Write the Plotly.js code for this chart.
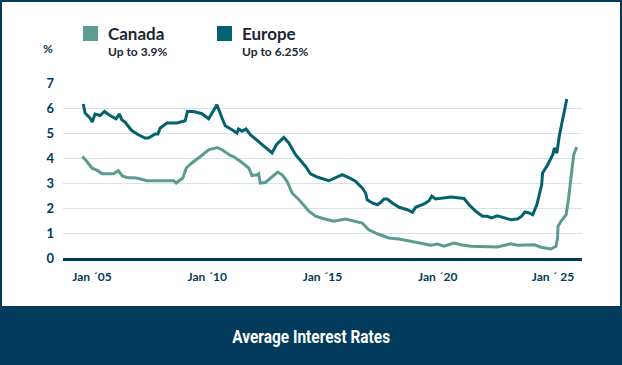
<!DOCTYPE html>
<html>
<head>
<meta charset="utf-8">
<script src="https://cdn.plot.ly/plotly-3.0.1.min.js"></script>
<style>
html,body{margin:0;padding:0;background:#013a5a;}
#chart{width:622px;height:365px;}
</style>
</head>
<body>
<div id="chart"></div>
<script>
// ---- data ----
const seriesNames = ["Canada", "Europe"];
const seriesNotes = ["Up to 3.9%", "Up to 6.25%"];

const canadaYears = [2004.58,2004.77,2004.99,2005.27,2005.42,2005.93,2006.14,2006.33,2006.51,2006.94,2007.38,2007.96,2008.54,2008.65,2008.94,2009.09,2009.33,2009.70,2010.06,2010.42,2010.64,2011.00,2011.14,2011.43,2011.80,2011.94,2012.16,2012.23,2012.30,2012.52,2012.81,2013.06,2013.25,2013.46,2013.68,2014.04,2014.41,2014.70,2015.06,2015.49,2016.00,2016.36,2016.72,2017.01,2017.38,2017.88,2018.32,2018.83,2019.26,2019.70,2019.99,2020.27,2020.71,2021.00,2021.43,2022.01,2022.59,2023.17,2023.46,2024.19,2024.48,2024.91,2025.13,2025.20,2025.22,2025.35,2025.57,2025.67,2025.78,2025.90,2026.03];
const canadaRates = [4.06,3.87,3.60,3.49,3.37,3.37,3.49,3.27,3.22,3.20,3.09,3.09,3.09,3.00,3.20,3.60,3.80,4.06,4.33,4.42,4.33,4.10,4.06,3.87,3.60,3.30,3.33,3.37,3.00,3.02,3.24,3.44,3.33,3.07,2.60,2.27,1.87,1.67,1.57,1.47,1.56,1.47,1.40,1.13,0.97,0.80,0.76,0.67,0.60,0.51,0.56,0.47,0.60,0.53,0.47,0.47,0.44,0.57,0.51,0.53,0.43,0.36,0.47,0.80,1.27,1.47,1.73,2.33,3.27,4.13,4.44];

const europeYears = [2004.62,2004.70,2004.77,2004.91,2005.01,2005.13,2005.35,2005.54,2005.78,2006.04,2006.19,2006.29,2006.43,2006.72,2007.01,2007.30,2007.45,2007.74,2007.86,2007.96,2008.25,2008.68,2009.04,2009.14,2009.40,2009.77,2010.06,2010.42,2010.64,2010.78,2011.07,2011.29,2011.36,2011.51,2011.68,2011.87,2012.81,2013.00,2013.32,2013.54,2013.83,2014.26,2014.48,2014.77,2015.27,2015.57,2015.86,2016.14,2016.43,2016.72,2016.87,2016.94,2017.16,2017.38,2017.52,2017.67,2017.81,2018.03,2018.32,2018.68,2018.90,2019.04,2019.41,2019.62,2019.74,2019.91,2020.42,2020.57,2021.14,2021.36,2021.65,2021.94,2022.15,2022.33,2022.59,2022.81,2023.17,2023.46,2023.64,2023.78,2023.97,2024.12,2024.30,2024.51,2024.55,2024.77,2024.99,2025.06,2025.17,2025.27,2025.42,2025.60];
const europeRates = [6.16,5.80,5.73,5.60,5.44,5.76,5.70,5.86,5.70,5.57,5.76,5.53,5.44,5.10,4.93,4.80,4.80,4.96,4.96,5.20,5.40,5.40,5.49,5.86,5.86,5.77,5.57,6.13,5.60,5.29,5.13,5.00,5.16,5.07,5.16,4.93,4.20,4.53,4.82,4.60,4.13,3.67,3.37,3.24,3.09,3.22,3.33,3.22,3.07,2.80,2.60,2.33,2.20,2.13,2.22,2.36,2.36,2.20,2.03,1.93,1.83,2.03,2.16,2.29,2.47,2.36,2.40,2.44,2.38,2.13,1.87,1.67,1.67,1.60,1.69,1.63,1.53,1.56,1.67,1.84,1.80,1.73,2.13,2.93,3.40,3.73,4.13,4.40,4.20,4.86,5.60,6.36];

const tickYears = [2005, 2010, 2015, 2020, 2025];
const tickLabels = ["Jan ´05", "Jan ´10", "Jan ´15", "Jan ´20", "Jan ´ 25"];
const yTicks = [0,1,2,3,4,5,6,7];
const chartTitle = "Average Interest Rates";
const unitLabel = "%";

// ---- style ----
const NAVY = "#013a5a";
const COLORS = ["#5b9b90", "#05616d"];
const FONT = "Lato, 'Open Sans', sans-serif";

const W = 622, H = 365;
const M = {l: 63, r: 40, t: 83, b: 107};
const PW = W - M.l - M.r, PH = H - M.t - M.b;
const px = v => (v - M.l) / PW;
const py = v => (H - M.b - v) / PH;

const traces = [
  {x: canadaYears, y: canadaRates, name: seriesNames[0], type: "scatter", mode: "lines",
   line: {color: COLORS[0], width: 3}, hoverinfo: "skip"},
  {x: europeYears, y: europeRates, name: seriesNames[1], type: "scatter", mode: "lines",
   line: {color: COLORS[1], width: 3}, hoverinfo: "skip"}
];

const shapes = [
  {type: "rect", xref: "paper", yref: "paper", layer: "below",
   x0: px(2), x1: px(620), y0: py(306), y1: py(2), fillcolor: "#ffffff", line: {width: 0}},
  {type: "rect", xref: "paper", yref: "paper",
   x0: px(83), x1: px(98), y0: py(41), y1: py(26), fillcolor: COLORS[0], line: {width: 0}},
  {type: "rect", xref: "paper", yref: "paper",
   x0: px(217), x1: px(232), y0: py(41), y1: py(26), fillcolor: COLORS[1], line: {width: 0}}
];

const annotations = [
  {xref: "paper", yref: "paper", x: px(106), y: py(34), xanchor: "left", yanchor: "middle",
   text: "<b>" + seriesNames[0] + "</b>", showarrow: false, font: {family: FONT, size: 17, color: "#1b2733"}},
  {xref: "paper", yref: "paper", x: px(106), y: py(51), xanchor: "left", yanchor: "middle",
   text: "<b>" + seriesNotes[0] + "</b>", showarrow: false, font: {family: FONT, size: 12, color: "#1b2733"}},
  {xref: "paper", yref: "paper", x: px(240), y: py(34), xanchor: "left", yanchor: "middle",
   text: "<b>" + seriesNames[1] + "</b>", showarrow: false, font: {family: FONT, size: 17, color: "#1b2733"}},
  {xref: "paper", yref: "paper", x: px(240), y: py(51), xanchor: "left", yanchor: "middle",
   text: "<b>" + seriesNotes[1] + "</b>", showarrow: false, font: {family: FONT, size: 12, color: "#1b2733"}},
  {xref: "paper", yref: "paper", x: px(48), y: py(49), xanchor: "center", yanchor: "middle",
   text: "<b>" + unitLabel + "</b>", showarrow: false, font: {family: FONT, size: 12, color: NAVY}},
  {xref: "paper", yref: "paper", x: px(311), y: py(336), xanchor: "center", yanchor: "middle",
   text: "<b>" + chartTitle + "</b>", showarrow: false,
   font: {family: "Roboto, 'Liberation Sans', sans-serif", size: 19, color: "#ffffff"}}
];

const layout = {
  width: W, height: H,
  margin: M,
  paper_bgcolor: NAVY,
  plot_bgcolor: "rgba(0,0,0,0)",
  showlegend: false,
  xaxis: {
    range: [2003.74, 2026.26], showgrid: false, zeroline: false,
    showline: true, linecolor: NAVY, linewidth: 3,
    tickmode: "array", tickvals: tickYears, ticktext: tickLabels, ticks: "",
    ticklabelstandoff: 6,
    tickfont: {family: FONT, size: 12, color: NAVY, weight: "bold"}
  },
  yaxis: {
    range: [0, 7], showgrid: true, gridcolor: "#d3e5ea", gridwidth: 1, zeroline: false,
    showline: false, tickmode: "array", tickvals: yTicks, ticks: "",
    ticklabelstandoff: 8,
    tickfont: {family: FONT, size: 13, color: NAVY, weight: "bold"}
  },
  shapes: shapes,
  annotations: annotations
};

Plotly.newPlot("chart", traces, layout, {staticPlot: true, displayModeBar: false}).then(gd => {
  // condense the footer title horizontally (no condensed face installed)
  const t = gd.querySelector('.annotation[data-index="5"] text.annotation-text');
  if (t) {
    const bb = t.getBBox();
    const cx = bb.x + bb.width / 2;
    const s = Math.min(1, 158 / bb.width);
    const prev = t.getAttribute("transform") || "";
    t.setAttribute("transform", `translate(${cx},0) scale(${s},1) translate(${-cx},0) ${prev}`);
  }
});
</script>
</body>
</html>
